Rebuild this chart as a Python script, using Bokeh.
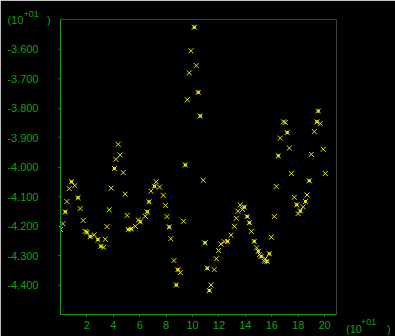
from bokeh.plotting import figure
from bokeh.models import Range1d, FixedTicker, NumeralTickFormatter, Label, ColumnDataSource
from bokeh.embed import file_html
from bokeh.resources import INLINE

# series drawn as plain "x"
x_plain = [0.0, 0.18, 0.48, 0.66, 1.08, 1.49, 1.72, 1.87, 2.55, 3.26, 3.39, 3.52, 3.69, 3.84,
           4.20, 4.37, 4.52, 4.75, 4.90, 5.05, 5.66, 5.89, 6.42, 6.85, 7.25, 7.50, 7.78, 7.95,
           8.06, 8.35, 8.59, 9.07, 9.32, 9.60, 9.75, 9.88, 10.28, 10.81, 11.39, 11.64, 11.80,
           11.97, 12.15, 12.40, 12.91, 13.16, 13.31, 13.44, 13.61, 13.79, 14.45, 14.85, 15.08,
           15.43, 15.51, 15.96, 16.19, 16.34, 16.64, 16.89, 17.02, 17.33, 17.48, 17.70, 17.99,
           18.38, 18.67, 18.99, 19.22, 19.67, 19.90, 20.05]
y_plain = [-4.212, -4.192, -4.117, -4.073, -4.063, -4.141, -4.181, -4.218, -4.230, -4.272, -4.245,
           -4.202, -4.145, -4.072, -3.974, -3.923, -3.959, -4.019, -4.092, -4.164, -4.201, -4.180,
           -4.167, -4.082, -4.050, -4.068, -4.096, -4.130, -4.168, -4.243, -4.317, -4.358, -4.184,
           -3.772, -3.681, -3.606, -3.656, -4.045, -4.400, -4.348, -4.311, -4.283, -4.261, -4.253,
           -4.231, -4.201, -4.174, -4.150, -4.129, -4.144, -4.218, -4.274, -4.297, -4.320, -4.311,
           -4.238, -4.168, -4.066, -3.902, -3.847, -3.849, -3.936, -4.022, -4.103, -4.158, -4.135,
           -4.095, -3.957, -3.880, -3.853, -3.940, -4.022]

# series drawn as "x" with a filled centre
x_dot = [0.36, 0.83, 1.33, 2.00, 2.25, 2.83, 3.06, 4.08, 5.13, 5.36, 6.04, 6.57, 6.70, 7.12,
         8.23, 8.77, 8.89, 9.45, 10.13, 10.43, 10.58, 10.94, 11.11, 11.27, 12.65, 13.92, 14.14,
         14.30, 14.67, 14.98, 15.20, 15.64, 15.81, 16.49, 17.17, 17.89, 18.16, 18.55, 18.84,
         19.42, 19.52]
y_dot = [-4.152, -4.050, -4.104, -4.221, -4.236, -4.246, -4.269, -4.005, -4.212, -4.210, -4.186,
         -4.152, -4.118, -4.065, -4.203, -4.400, -4.348, -3.993, -3.526, -3.747, -3.827, -4.257,
         -4.343, -4.419, -4.252, -4.136, -4.168, -4.189, -4.252, -4.286, -4.303, -4.320, -4.294,
         -3.962, -3.883, -4.128, -4.149, -4.117, -4.047, -3.847, -3.810]

x_ticks = [2, 4, 6, 8, 10, 12, 14, 16, 18, 20]
y_ticks = [-4.4, -4.3, -4.2, -4.1, -4.0, -3.9, -3.8, -3.7, -3.6]
mult_base = "(10"
mult_exp = "+01"
mult_close = ")"

GREEN = "#14a014"
YELLOW = "#e6e600"
FONT = "Liberation Sans"

p = figure(width=395, height=336, output_backend="svg", toolbar_location=None,
           x_range=Range1d(0, 20.9), y_range=Range1d(-4.5, -3.5),
           min_border_left=60, min_border_right=59, min_border_top=19, min_border_bottom=22)
p.background_fill_color = "black"
p.border_fill_color = "black"
p.outline_line_color = None
p.grid.visible = False

for ax in (p.xaxis[0], p.yaxis[0]):
    ax.axis_line_color = GREEN
    ax.axis_line_width = 1
    ax.major_tick_line_color = GREEN
    ax.major_tick_in = 0
    ax.major_tick_out = 2
    ax.minor_tick_line_color = None
    ax.major_label_text_color = GREEN
    ax.major_label_text_font = FONT
    ax.major_label_text_font_size = "11px"

p.xaxis[0].ticker = FixedTicker(ticks=x_ticks)
p.yaxis[0].ticker = FixedTicker(ticks=y_ticks)
p.yaxis[0].formatter = NumeralTickFormatter(format="0.000")
p.yaxis[0].major_label_standoff = 20
p.xaxis[0].major_label_standoff = 4

src_plain = ColumnDataSource(dict(x=x_plain, y=y_plain))
src_dot = ColumnDataSource(dict(x=x_dot, y=y_dot))
p.scatter("x", "y", source=src_plain, marker="x", size=7, line_color=YELLOW, line_width=1)
p.scatter("x", "y", source=src_dot, marker="x", size=7, line_color=YELLOW, line_width=1)
p.scatter("x", "y", source=src_dot, marker="square", size=3, fill_color=YELLOW, line_color=None)

# multiplier labels; placed in side panels so they are not clipped to the frame
def lab(x, y, t, size, side):
    p.add_layout(Label(x=x, y=y, x_units="canvas", y_units="canvas", text=t,
                       text_color=GREEN, text_font=FONT, text_font_size=size,
                       text_baseline="alphabetic", text_align="left"), side)

lab(7, 19, mult_base, "11px", "above")
lab(23, 13.3, mult_exp, "9px", "right")
lab(46.5, 19, mult_close, "11px", "right")
lab(345.5, 328, mult_base, "11px", "right")
lab(360.5, 321.7, mult_exp, "9px", "right")
lab(386.5, 328, mult_close, "11px", "right")

open("out.html", "w").write(file_html(p, INLINE))
